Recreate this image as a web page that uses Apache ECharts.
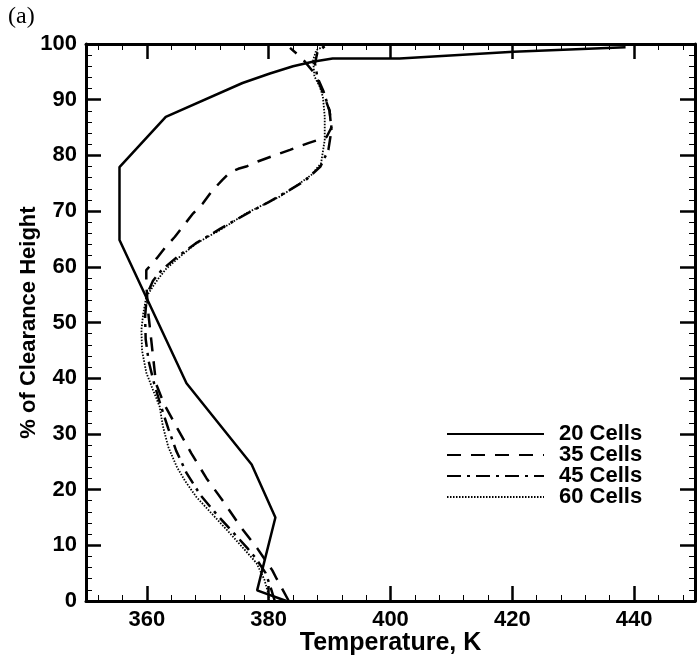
<!DOCTYPE html>
<html>
<head>
<meta charset="utf-8">
<script src="https://cdn.jsdelivr.net/npm/echarts@6/dist/echarts.min.js"></script>
<style>html,body{margin:0;padding:0;background:#fff}#c{width:697px;height:656px}</style>
</head>
<body>
<div id="c"></div>
<script>
// Tick labels / positions
var xMajorTicks = [360, 380, 400, 420, 440];
var xMinorTicks = [352, 356, 364, 368, 372, 376, 384, 388, 392, 396, 404, 408, 412, 416, 424, 428, 432, 436, 444, 448];
var seriesNames = ['20 Cells', '35 Cells', '45 Cells', '60 Cells'];

// [Temperature K, % of clearance height]
var cells20 = [[382.9,0],[378.1,1.9],[381.1,15],[377.2,24.5],[366.5,39.1],[355.5,64.8],[355.5,77.9],[363.1,86.9],[375.7,93],[380.2,94.7],[384,96],[387.2,96.8],[390.5,97.4],[401.5,97.4],[420.2,98.6],[438.6,99.4]];
var cells35 = [[383.3,0],[381.3,4],[380.6,5.5],[378.1,9.5],[375.4,13.3],[372.6,17.8],[369.8,22],[367.3,26.5],[365,31],[362.8,35.4],[361.5,39],[361,44],[360.6,48],[360.2,52],[359.9,57],[359.9,59.4],[361.6,61.5],[363.1,63.6],[364.6,65.4],[366.1,67.5],[367.6,69.6],[369.2,71.4],[370.6,73.5],[372.4,75.6],[373.6,76.9],[375,77.6],[376.3,78],[378.2,78.9],[380.7,79.9],[383.5,81],[386.5,82.2],[389.5,83.3],[390.3,85],[390,88],[389,91],[387.7,94.5],[385.5,97.4],[383.5,99.3]];
var cells45 = [[381,0],[380.3,2.5],[379.5,5],[378,7.5],[376.5,9.5],[374,12.5],[371.5,15.5],[368.8,19],[366.5,23],[364.8,27],[363.5,31],[362.3,35],[361.2,39],[360.3,43],[359.8,47],[359.7,51],[360,55],[361,57.5],[362.5,59.5],[365,61.8],[368,64.2],[372,66.8],[376.5,69.6],[380,71.6],[383,73.5],[386,75.5],[388.5,78],[389.8,81],[390.3,84.5],[390,88],[389,91.5],[388,94],[387.6,96.5],[388,98.5],[389.3,99.7]];
var cells60 = [[380.1,0],[379.9,1.5],[379.3,3.8],[378,6.8],[376.3,8.9],[373.6,12.2],[370.9,15.4],[368.1,18.7],[366.3,21.5],[364.9,24.1],[363.5,27.7],[362.6,31.5],[362.1,34.9],[361,37.9],[359.9,41],[359.2,45],[359.1,48.7],[359.4,51.6],[359.9,54.6],[361,56.5],[361.9,57.9],[363.2,59.7],[365.4,61.8],[368.1,64.2],[372,66.6],[376.3,69.6],[379.6,71.4],[381.8,72.6],[384.5,74.5],[387,76.5],[388.6,78.6],[389.2,82.8],[389.2,87],[388.9,90.5],[388.4,92.3],[387.5,94.2],[387.3,97.1],[387.8,98.9],[388.9,99.5]];

var FONT = 'Liberation Sans';
var chart = echarts.init(document.getElementById('c'), null, {renderer: 'canvas'});

function xAxisDef(pos, major, showLabel, name) {
  return {
    type: 'value', position: pos, min: 350, max: 450,
    name: name || '', nameLocation: 'middle', nameGap: 30, nameMoveOverlap: false,
    nameTextStyle: {fontFamily: FONT, fontWeight: 'bold', fontSize: 25, color: '#000'},
    axisLine: {show: major, onZero: false, lineStyle: {color: '#000', width: 3}},
    axisTick: {show: true, inside: true, length: major ? 15 : 6,
      customValues: major ? xMajorTicks : xMinorTicks,
      lineStyle: {color: '#000', width: major ? 2.5 : 1}},
    axisLabel: {show: showLabel, customValues: xMajorTicks, margin: 8,
      fontFamily: FONT, fontWeight: 'bold', fontSize: 22, color: '#000'},
    splitLine: {show: false}
  };
}
function yAxisDef(pos, showLabel, name) {
  return {
    type: 'value', position: pos, min: 0, max: 100, interval: 10,
    name: name || '', nameLocation: 'middle', nameGap: 46, nameMoveOverlap: false,
    nameTextStyle: {fontFamily: FONT, fontWeight: 'bold', fontSize: 22, color: '#000'},
    axisLine: {show: true, onZero: false, lineStyle: {color: '#000', width: 3}},
    axisTick: {show: true, inside: true, length: 15, lineStyle: {color: '#000', width: 2.5}},
    minorTick: {show: true, splitNumber: 5, length: 6, lineStyle: {color: '#000', width: 1}},
    axisLabel: {show: showLabel, margin: 9, fontFamily: FONT, fontWeight: 'bold', fontSize: 22, color: '#000'},
    splitLine: {show: false}
  };
}

var styles = [
  {type: 'solid', width: 2.5},
  {type: [14, 10], width: 2.5},
  {type: [14, 6, 3, 6], width: 2.5},
  {type: [1.5, 1.5], width: 1.8}
];
var datas = [cells20, cells35, cells45, cells60];

chart.setOption({
  animation: false,
  backgroundColor: '#fff',
  grid: {left: 86, right: 2, top: 44, bottom: 55, containLabel: false, outerBoundsMode: 'none'},
  graphic: [{type: 'text', left: 8, top: 5,
    style: {text: '(a)', fontFamily: 'Liberation Serif', fontSize: 24, fill: '#000'}}],
  legend: {
    show: true,
    orient: 'vertical', left: 441, top: 418,
    itemWidth: 97, itemHeight: 14, itemGap: -1,
    data: seriesNames,
    itemStyle: {opacity: 0},
    textStyle: {fontFamily: FONT, fontWeight: 'bold', fontSize: 22, color: '#000', padding: [0, 0, 0, 10]}
  },
  xAxis: [
    xAxisDef('bottom', true, true, 'Temperature, K'),
    xAxisDef('bottom', false, false),
    xAxisDef('top', true, false),
    xAxisDef('top', false, false)
  ],
  yAxis: [
    yAxisDef('left', true, '% of Clearance Height'),
    yAxisDef('right', false)
  ],
  series: seriesNames.map(function (n, i) {
    return {
      name: n, type: 'line', xAxisIndex: 0, yAxisIndex: 0,
      data: datas[i], showSymbol: false, symbol: 'none', smooth: false,
      lineStyle: {color: '#000', width: styles[i].width, type: styles[i].type},
      itemStyle: {color: '#000'}, z: 3
    };
  })
});
</script>
</body>
</html>
